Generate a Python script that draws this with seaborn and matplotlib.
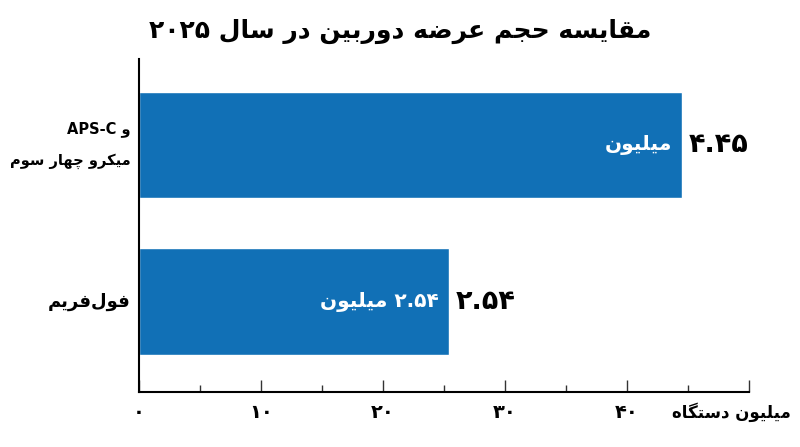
import matplotlib
matplotlib.use("Agg")
import matplotlib.pyplot as plt
import seaborn as sns
import pandas as pd

# data
categories = ["APS-C و\nمیکرو چهار سوم", "فول‌فریم"]
values = [44.5, 25.4]
value_labels = ["۴.۴۵", "۲.۵۴"]
inner_labels = ["میلیون", "۲.۵۴ میلیون"]
x_ticks = [0, 10, 20, 30, 40, 50]
x_tick_labels = ["۰", "۱۰", "۲۰", "۳۰", "۴۰", ""]
title = "مقایسه حجم عرضه دوربین در سال ۲۰۲۵"
x_label = "میلیون دستگاه"

BAR = "#1170b6"

# minimal persian shaping: isolated, final, initial, medial
FORMS = {
    'ا': ('\ufe8d', '\ufe8e', None, None),
    'ب': ('\ufe8f', '\ufe90', '\ufe91', '\ufe92'),
    'پ': ('\ufb56', '\ufb57', '\ufb58', '\ufb59'),
    'ت': ('\ufe95', '\ufe96', '\ufe97', '\ufe98'),
    'ج': ('\ufe9d', '\ufe9e', '\ufe9f', '\ufea0'),
    'چ': ('\ufb7a', '\ufb7b', '\ufb7c', '\ufb7d'),
    'ح': ('\ufea1', '\ufea2', '\ufea3', '\ufea4'),
    'د': ('\ufea9', '\ufeaa', None, None),
    'ر': ('\ufead', '\ufeae', None, None),
    'س': ('\ufeb1', '\ufeb2', '\ufeb3', '\ufeb4'),
    'ض': ('\ufebd', '\ufebe', '\ufebf', '\ufec0'),
    'ع': ('\ufec9', '\ufeca', '\ufecb', '\ufecc'),
    'ف': ('\ufed1', '\ufed2', '\ufed3', '\ufed4'),
    'ق': ('\ufed5', '\ufed6', '\ufed7', '\ufed8'),
    'ک': ('\ufb8e', '\ufb8f', '\ufb90', '\ufb91'),
    'گ': ('\ufb92', '\ufb93', '\ufb94', '\ufb95'),
    'ل': ('\ufedd', '\ufede', '\ufedf', '\ufee0'),
    'م': ('\ufee1', '\ufee2', '\ufee3', '\ufee4'),
    'ن': ('\ufee5', '\ufee6', '\ufee7', '\ufee8'),
    'ه': ('\ufee9', '\ufeea', '\ufeeb', '\ufeec'),
    'و': ('\ufeed', '\ufeee', None, None),
    'ی': ('\ufbfc', '\ufbfd', '\ufbfe', '\ufbff'),
}


def shape(word):
    out = []
    for i, ch in enumerate(word):
        f = FORMS.get(ch)
        if f is None:
            if ch != '\u200c':
                out.append(ch)
            continue
        prev = word[i - 1] if i > 0 else ''
        nxt = word[i + 1] if i + 1 < len(word) else ''
        jp = prev in FORMS and FORMS[prev][2] is not None
        jn = f[2] is not None and nxt in FORMS
        if jp and jn:
            out.append(f[3])
        elif jp:
            out.append(f[1])
        elif jn:
            out.append(f[2])
        else:
            out.append(f[0])
    return ''.join(out)


def fa(text):
    lines = []
    for line in text.split("\n"):
        first = next((c for c in line if c.isalpha()), "")
        rtl = first in FORMS
        words = [shape(w)[::-1] if any(c in FORMS for c in w) else w
                 for w in line.split(" ")]
        if rtl:
            words = words[::-1]
        lines.append(" ".join(words))
    return "\n".join(lines)


sns.set_theme(style="white")
plt.rcParams['font.family'] = ['DejaVu Sans']
plt.rcParams['font.weight'] = 'bold'
plt.rcParams['text.color'] = 'black'
plt.rcParams['xtick.color'] = 'black'
plt.rcParams['ytick.color'] = 'black'

df = pd.DataFrame({"cat": categories, "val": values})

fig = plt.figure(figsize=(8, 4.47), dpi=100)
ax = fig.add_axes([0.17375, 0.123, 0.7625, 0.745])
sns.barplot(data=df, x="val", y="cat", orient="h", color=BAR, saturation=1,
            width=0.68, ax=ax)

ax.set_xlim(0, 50)
ax.set_ylim(1.578, -0.55)
ax.set_xlabel("")
ax.set_ylabel("")

for i, (v, lab, inner) in enumerate(zip(values, value_labels, inner_labels)):
    ax.annotate(lab, (v, i), xytext=(5, 0), textcoords="offset points",
                ha="left", va="center", fontsize=19.5, fontweight="bold", color="black")
    ax.annotate(fa(inner), (v, i), xytext=(-7, 0), textcoords="offset points",
                ha="right", va="center", fontsize=14.5, fontweight="bold", color="white")

ax.set_yticks(range(len(categories)))
ylabs = ax.set_yticklabels([fa(c) for c in categories], fontweight="bold",
                           ha="right", linespacing=2.3)
ylabs[0].set_fontsize(10.5)
ylabs[1].set_fontsize(13)
for t in ylabs:
    t.set_va("center")
ax.tick_params(axis="y", length=0, pad=6)

ax.set_xticks(x_ticks)
ax.set_xticklabels(x_tick_labels, fontsize=14, fontweight="bold")
ax.set_xticks([5, 15, 25, 35, 45], minor=True)
ax.tick_params(axis="x", which="major", direction="in", length=9, width=1,
               color="#333333", pad=8, bottom=True)
ax.tick_params(axis="x", which="minor", direction="in", length=5, width=1,
               color="#333333", bottom=True)

for s in ["top", "right"]:
    ax.spines[s].set_visible(False)
for s in ["left", "bottom"]:
    ax.spines[s].set_color("black")
    ax.spines[s].set_linewidth(1.5)

fig.text(0.914, 0.078, fa(x_label), ha="center", va="center",
         fontsize=12, fontweight="bold")
fig.text(0.5, 0.93, fa(title), ha="center", va="center",
         fontsize=18, fontweight="bold")

fig.savefig("out.png", dpi=100)
